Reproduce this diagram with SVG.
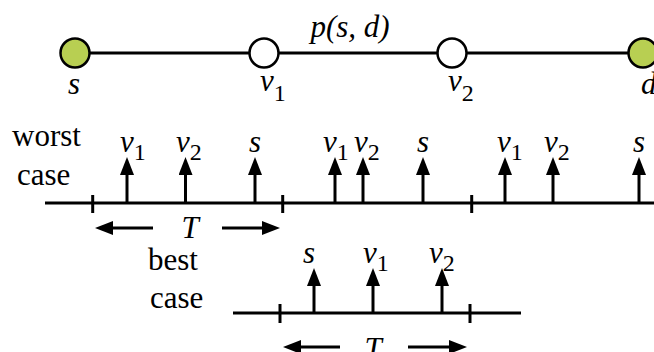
<svg xmlns="http://www.w3.org/2000/svg" width="654" height="352" viewBox="0 0 654 352">
<defs>
<marker id="ah" viewBox="0 0 18 14" refX="0" refY="7" markerWidth="18" markerHeight="14" orient="auto" markerUnits="userSpaceOnUse">
<path d="M0,0 L18,7 L0,14 z" fill="#000"/>
</marker>
</defs>
<style>
text{font-family:'Liberation Serif',serif;font-size:31px;fill:#000}
.i{font-style:italic}
.sub{font-size:24px;font-style:normal}
.ln{stroke:#000;stroke-width:3;fill:none}
.ar{stroke:#000;stroke-width:3;fill:none;marker-end:url(#ah)}
.src{fill:#b8cf52;stroke:#000;stroke-width:2.5}
.mid{fill:#fff;stroke:#000;stroke-width:2.5}
</style>
<g id="connectors">
<line class="ln" x1="75" y1="53" x2="643" y2="53"/>
</g>
<g id="node-s"><circle class="src" cx="75" cy="53" r="14.5"/><text class="i" x="74" y="94" text-anchor="middle">s</text></g>
<g id="node-v1"><circle class="mid" cx="264" cy="53" r="14.5"/><text x="260" y="91"><tspan class="i">v</tspan><tspan class="sub" dy="10">1</tspan></text></g>
<g id="node-v2"><circle class="mid" cx="452" cy="53" r="14.5"/><text x="448" y="91"><tspan class="i">v</tspan><tspan class="sub" dy="10">2</tspan></text></g>
<g id="node-d"><circle class="src" cx="643" cy="53" r="14.5"/><text class="i" x="641" y="94">d</text></g>
<text class="i" x="350" y="37" text-anchor="middle">p(s, d)</text>

<g id="worst-case">
<text x="12" y="146">worst</text>
<text x="17" y="185">case</text>
<line class="ln" x1="45" y1="203" x2="654" y2="203"/>
<line class="ln" x1="92.7" y1="195" x2="92.7" y2="213"/>
<line class="ln" x1="282.7" y1="195" x2="282.7" y2="213"/>
<line class="ln" x1="471.7" y1="195" x2="471.7" y2="213"/>
<line class="ar" x1="127" y1="203" x2="127" y2="175"/>
<line class="ar" x1="185.5" y1="203" x2="185.5" y2="175"/>
<line class="ar" x1="255" y1="203" x2="255" y2="175"/>
<line class="ar" x1="335" y1="203" x2="335" y2="175"/>
<line class="ar" x1="363" y1="203" x2="363" y2="175"/>
<line class="ar" x1="423" y1="203" x2="423" y2="175"/>
<line class="ar" x1="505" y1="203" x2="505" y2="175"/>
<line class="ar" x1="553" y1="203" x2="553" y2="175"/>
<line class="ar" x1="639" y1="203" x2="639" y2="175"/>
<text x="120" y="152"><tspan class="i">v</tspan><tspan class="sub" dy="8">1</tspan></text>
<text x="176" y="152"><tspan class="i">v</tspan><tspan class="sub" dy="8">2</tspan></text>
<text class="i" x="255" y="152" text-anchor="middle">s</text>
<text x="323" y="152"><tspan class="i">v</tspan><tspan class="sub" dy="8">1</tspan></text>
<text x="354" y="152"><tspan class="i">v</tspan><tspan class="sub" dy="8">2</tspan></text>
<text class="i" x="423" y="152" text-anchor="middle">s</text>
<text x="497" y="152"><tspan class="i">v</tspan><tspan class="sub" dy="8">1</tspan></text>
<text x="544" y="152"><tspan class="i">v</tspan><tspan class="sub" dy="8">2</tspan></text>
<text class="i" x="639" y="152" text-anchor="middle">s</text>
<line class="ar" x1="153" y1="228" x2="113" y2="228"/>
<line class="ar" x1="222" y1="228" x2="262" y2="228"/>
<text class="i" x="190" y="238" text-anchor="middle">T</text>
</g>

<g id="best-case">
<text x="148" y="270">best</text>
<text x="150" y="308">case</text>
<line class="ln" x1="233" y1="313" x2="521" y2="313"/>
<line class="ln" x1="280" y1="304" x2="280" y2="323"/>
<line class="ln" x1="470" y1="304" x2="470" y2="323"/>
<line class="ar" x1="314" y1="313" x2="314" y2="286"/>
<line class="ar" x1="373" y1="313" x2="373" y2="286"/>
<line class="ar" x1="442" y1="313" x2="442" y2="286"/>
<text class="i" x="309" y="263" text-anchor="middle">s</text>
<text x="363" y="263"><tspan class="i">v</tspan><tspan class="sub" dy="8">1</tspan></text>
<text x="429" y="263"><tspan class="i">v</tspan><tspan class="sub" dy="8">2</tspan></text>
<line class="ar" x1="340" y1="347" x2="301" y2="347"/>
<line class="ar" x1="408" y1="347" x2="449" y2="347"/>
<text class="i" x="373" y="359" text-anchor="middle">T</text>
</g>
</svg>
